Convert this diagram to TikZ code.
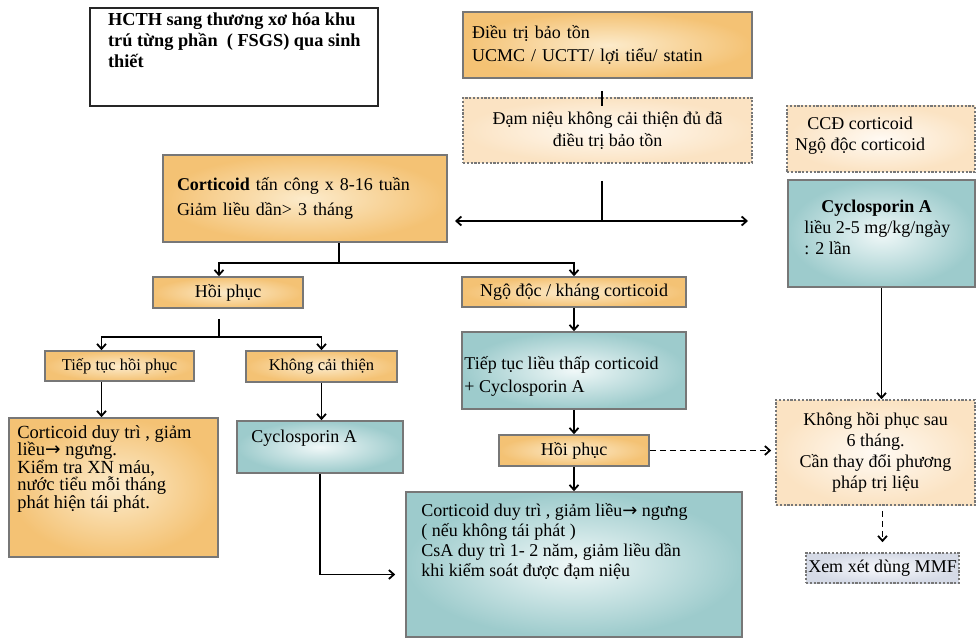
\documentclass[tikz,border=0pt]{standalone}
\usepackage{fontspec}
\setmainfont{Liberation Serif}
\newfontfamily\arrowfont{DejaVu Sans}
\usepackage{xcolor}
\usetikzlibrary{arrows.meta}

\definecolor{goldout}{HTML}{F4C274}
\definecolor{goldin}{HTML}{FCEBCB}
\definecolor{tealout}{HTML}{9DCBCC}
\definecolor{tealin}{HTML}{F0F8F8}
\definecolor{peachout}{HTML}{FBE3C3}
\definecolor{peachin}{HTML}{FFFAF3}
\definecolor{greyout}{HTML}{D5DAE6}
\definecolor{greyin}{HTML}{F8F9FC}
\definecolor{rim}{HTML}{777777}

\newcommand{\rarr}{{\arrowfont\char"2192}}
\newcommand{\fsz}[2]{\fontsize{#1}{#2}\selectfont}

\begin{document}
\begin{tikzpicture}[x=1pt,y=-1pt,
    >={Straight Barb[length=5pt,width=9pt]},
    box/.style={draw=rim, line width=1.6pt, inner sep=0pt},
    gold/.style={box, inner color=goldin, outer color=goldout},
    teal/.style={box, inner color=tealin, outer color=tealout},
    peach/.style={box, dash pattern=on 2.2pt off 1.6pt, inner color=peachin, outer color=peachout},
    link/.style={line width=1.8pt},
    dlink/.style={link, dash pattern=on 6pt off 4pt},
    txt/.style={inner sep=0pt, align=left, anchor=north west},
    font=\fsz{18}{21}]
\useasboundingbox (0,0) rectangle (977,639);
\fill[white] (0,0) rectangle (977,639);

% left and middle boxes
\node[box, draw=black!85, line width=2.2pt, fill=white, minimum width=288pt, minimum height=98pt] (hcth) at (234,57) {};
\node[txt, font=\bfseries\fsz{18.3}{21}] (hcth-t) at ([shift={(19pt,-6pt)}]hcth.north west)
  {HCTH sang thương xơ hóa khu\\trú từng phần \ ( FSGS) qua sinh\\thiết};
\node[gold, minimum width=289pt, minimum height=66pt, text width=271pt, align=left, font=\fsz{18}{23}] (dieutri) at (607.5,45)
  {Điều trị bảo tồn\\UCMC / UCTT/ lợi tiểu/ statin};
\node[peach, minimum width=289pt, minimum height=65pt, align=center, font=\fsz{18}{22}] (damnieu) at (607.5,130.5)
  {Đạm niệu không cải thiện đủ đã\\điều trị bảo tồn};
\node[gold, minimum width=284pt, minimum height=87pt, text width=256pt, align=left, font=\fsz{18}{25}] (cortico) at (305,198.5)
  {\textbf{Corticoid} tấn công x 8-16 tuần\\Giảm liều dần> 3 tháng};
\node[gold, minimum width=150pt, minimum height=31pt] (hoiphuc) at (228,292.5) {Hồi phục};
\node[gold, minimum width=224pt, minimum height=30pt] (ngodoc) at (574,292) {Ngộ độc / kháng corticoid};
\node[gold, minimum width=149pt, minimum height=30pt, font=\fsz{16.5}{18}] (tieptuc) at (119.5,366) {Tiếp tục hồi phục};
\node[gold, minimum width=151pt, minimum height=31pt, font=\fsz{16.5}{18}] (khongct) at (321.5,366.5) {Không cải thiện};
\node[gold, minimum width=209pt, minimum height=139pt] (duytri) at (113.5,487.5) {};
\node[txt, font=\fsz{18.5}{17.5}] (duytri-t) at ([shift={(9pt,-8pt)}]duytri.north west)
  {Corticoid duy trì , giảm\\liều\rarr{} ngưng.\\Kiểm tra XN máu,\\nước tiểu mỗi tháng\\phát hiện tái phát.};
\node[teal, minimum width=166pt, minimum height=52pt] (cyclo) at (320,447) {};
\node[txt, anchor=west] (cyclo-t) at ([shift={(15pt,9pt)}]cyclo.west) {Cyclosporin A};
\node[teal, minimum width=224pt, minimum height=77pt] (tieplieu) at (574,370.5) {};
\node[txt, font=\fsz{18}{23}] (tieplieu-t) at ([shift={(3pt,-25pt)}]tieplieu.north west)
  {Tiếp tục liều thấp corticoid\\+ Cyclosporin A};
\node[gold, minimum width=150pt, minimum height=31pt] (hoiphuc2) at (574,450.5) {Hồi phục};
\node[teal, minimum width=336pt, minimum height=145pt] (final) at (574,564.5) {};
\node[txt, font=\fsz{18}{20}] (final-t) at ([shift={(16pt,-12pt)}]final.north west)
  {Corticoid duy trì , giảm liều\rarr{} ngưng\\( nếu không tái phát )\\CsA duy trì 1- 2 năm, giảm liều dần\\khi kiểm soát được đạm niệu};

% right column
\node[peach, minimum width=188pt, minimum height=66pt] (ccd) at (881,139) {};
\node[align=center, inner sep=0pt] (ccd-t) at ([shift={(-21pt,3pt)}]ccd.center) {CCĐ corticoid\\Ngộ độc corticoid};
\node[teal, minimum width=187pt, minimum height=107pt] (cycloR) at (881.5,233.5) {};
\node[txt] (cycloR-t) at ([shift={(17pt,-21pt)}]cycloR.north west)
  {\hspace*{17pt}\textbf{Cyclosporin A}\\liều 2-5 mg/kg/ngày\\: 2 lần};
\node[peach, minimum width=199pt, minimum height=105pt, align=center] (khonghp) at (875.5,452.5)
  {Không hồi phục sau\\6 tháng.\\Cần thay đổi phương\\pháp trị liệu};
\node[box, dash pattern=on 2.2pt off 1.6pt, inner color=greyin, outer color=greyout, minimum width=153pt, minimum height=30pt] (mmf) at (882.5,568)
  {Xem xét dùng MMF};

% connectors
\coordinate (split) at (602,221);
\coordinate (tipL) at (455,221);
\coordinate (tipR) at (748,221);
\coordinate (fork1) at (339,263);
\coordinate (fork2) at (219,337);

\draw[link] ([yshift=-12pt]dieutri.south -| split) -- ([yshift=-9pt]damnieu.north -| split);
\draw[link] ([yshift=-17pt]damnieu.south -| split) -- (split);
\draw[link, <->] (tipL) -- (tipR);
\draw[link] (cortico.south -| fork1) -- (fork1);
\draw[link, ->] (fork1) -| ([xshift=-9pt]hoiphuc.north);
\draw[link, ->] (fork1) -| (ngodoc.north);
\draw[link] ([yshift=-10pt]hoiphuc.south -| fork2) -- (fork2);
\draw[link, ->] (fork2) -| ([xshift=-18pt]tieptuc.north);
\draw[link, ->] (fork2) -| (khongct.north);
\draw[link, ->] ([xshift=-18pt]tieptuc.south) -- ([xshift=-18pt]tieptuc.south |- duytri.north);
\draw[link, ->] (khongct.south) -- (khongct.south |- cyclo.north);
\draw[link, ->] (cyclo.south) |- ([shift={(-10pt,-10pt)}]final.west);
\draw[link, ->] (ngodoc.south) -- (tieplieu.north);
\draw[link, ->] (tieplieu.south) -- (hoiphuc2.north);
\draw[link, ->] (hoiphuc2.south) -- (final.north);
\draw[dlink, ->] (hoiphuc2.east) -- ([xshift=-4pt]hoiphuc2.east -| khonghp.west);
\draw[link, ->] (cycloR.south) -- (cycloR.south |- khonghp.north);
\draw[dlink, ->] ([yshift=-5pt]khonghp.south -| mmf.north) -- ([yshift=10pt]mmf.north);
\end{tikzpicture}
\end{document}
